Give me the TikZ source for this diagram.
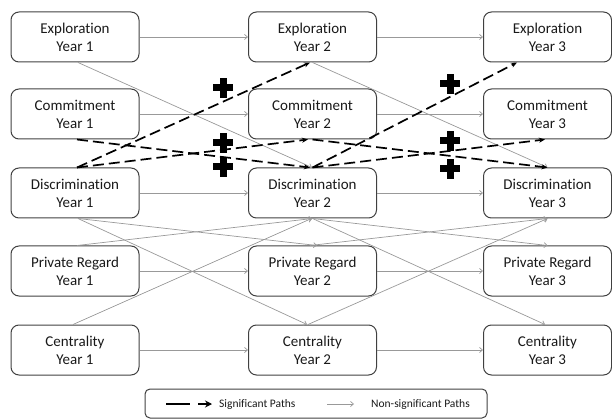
\documentclass[tikz,border=0pt]{standalone}
\usepackage{fontspec}
\setmainfont{Carlito}[Ligatures=NoCommon]
\usetikzlibrary{arrows.meta}
\begin{document}
\begin{tikzpicture}[x=1pt,y=-1pt,
  box/.style={draw=black!75, line width=1pt, rounded corners=8pt, minimum width=128pt, minimum height=50pt, align=center, font=\fontsize{15}{18}\selectfont, text=black!90, inner sep=0pt},
  ns/.style={draw=black!40, line width=0.7pt, -{Straight Barb[length=3pt,width=5pt]}},
  sig/.style={draw=black, line width=1.7pt, dash pattern=on 11pt off 5pt, -{Stealth[length=6pt,width=5pt]}},
  plusmark/.style={minimum width=20pt, minimum height=20pt, inner sep=0pt,
    path picture={
      \fill[black] ([xshift=-10pt,yshift=-3.5pt]path picture bounding box.center) rectangle ([xshift=10pt,yshift=3.5pt]path picture bounding box.center);
      \fill[black] ([xshift=-3.5pt,yshift=-10pt]path picture bounding box.center) rectangle ([xshift=3.5pt,yshift=10pt]path picture bounding box.center);}},
  legtext/.style={font=\fontsize{11.5}{13}\selectfont, text=black!90, anchor=west, inner sep=0pt}
]
\useasboundingbox (0,0) rectangle (612,419);
% boxes
\node[box] (e1) at (75,37) {Exploration\\Year 1};
\node[box] (e2) at (312.5,37) {Exploration\\Year 2};
\node[box] (e3) at (547.5,37) {Exploration\\Year 3};
\node[box] (c1) at (75,114) {Commitment\\Year 1};
\node[box] (c2) at (312.5,114) {Commitment\\Year 2};
\node[box] (c3) at (547.5,114) {Commitment\\Year 3};
\node[box] (d1) at (75,193) {Discrimination\\Year 1};
\node[box] (d2) at (312.5,193) {Discrimination\\Year 2};
\node[box] (d3) at (547.5,193) {Discrimination\\Year 3};
\node[box] (p1) at (75,271) {Private Regard\\Year 1};
\node[box] (p2) at (312.5,271) {Private Regard\\Year 2};
\node[box] (p3) at (547.5,271) {Private Regard\\Year 3};
\node[box] (z1) at (75,350) {Centrality\\Year 1};
\node[box] (z2) at (312.5,350) {Centrality\\Year 2};
\node[box] (z3) at (547.5,350) {Centrality\\Year 3};
% horizontal non-significant paths
\foreach \r in {e,c,d,p,z}{
  \draw[ns] (\r1.east) -- (\r2.west);
  \draw[ns] (\r2.east) -- (\r3.west);
}
% diagonal non-significant paths
\draw[ns] ([xshift=3pt]e1.south) -- ([xshift=-0.5pt]d2.north);
\draw[ns] (e2.south) -- (d3.north);
\draw[ns] ([xshift=3pt]d1.south) -- ([xshift=4.5pt]p2.north);
\draw[ns] ([xshift=3pt]d1.south) -- ([xshift=-5.5pt]z2.north);
\draw[ns] ([xshift=2pt]p1.north) -- (d2.south);
\draw[ns] ([xshift=-2pt]z1.north) -- ([xshift=-1pt]d2.south);
\draw[ns] (d2.south) -- (p3.north);
\draw[ns] (d2.south) -- ([xshift=-2.5pt]z3.north);
\draw[ns] ([xshift=-2.5pt]p2.north) -- (d3.south);
\draw[ns] ([xshift=-4.5pt]z2.north) -- (d3.south);
% significant paths
\draw[sig] ([xshift=2pt]d1.north) -- ([xshift=-2.5pt]e2.south);
\draw[sig] ([xshift=2pt]d1.north) -- ([xshift=-4.5pt]c2.south);
\draw[sig] ([xshift=2pt]c1.south) -- ([xshift=-2.5pt]d2.north);
\draw[sig] (d2.north) -- ([xshift=-30.5pt]e3.south);
\draw[sig] (d2.north) -- ([xshift=-2.5pt]c3.south);
\draw[sig] (c2.south) -- (d3.north);
% plus signs
\node[plusmark] (q1) at (223,88) {};
\node[plusmark] (q2) at (223,143) {};
\node[plusmark] (q3) at (223,167) {};
\node[plusmark] (q4) at (450,84) {};
\node[plusmark] (q5) at (450,141) {};
\node[plusmark] (q6) at (450,169) {};
% legend
\node[draw=black!75, line width=1pt, rounded corners=5pt, minimum width=342pt, minimum height=29pt] (leg) at (316,403.5) {};
\coordinate (ls1) at (166,404);
\coordinate (ls2) at (190,404);
\coordinate (la1) at (198,404);
\coordinate (la2) at (212,404);
\coordinate (ln1) at (327,404);
\coordinate (ln2) at (354,404);
\draw[black, line width=2pt] (ls1) -- (ls2);
\draw[black, line width=1.6pt, -{Stealth[length=7pt,width=7pt]}] (la1) -- (la2);
\draw[ns] (ln1) -- (ln2);
\node[legtext] (lt1) at (219,404) {Significant Paths};
\node[legtext] (lt2) at (371,404) {Non-significant Paths};
\end{tikzpicture}
\end{document}
